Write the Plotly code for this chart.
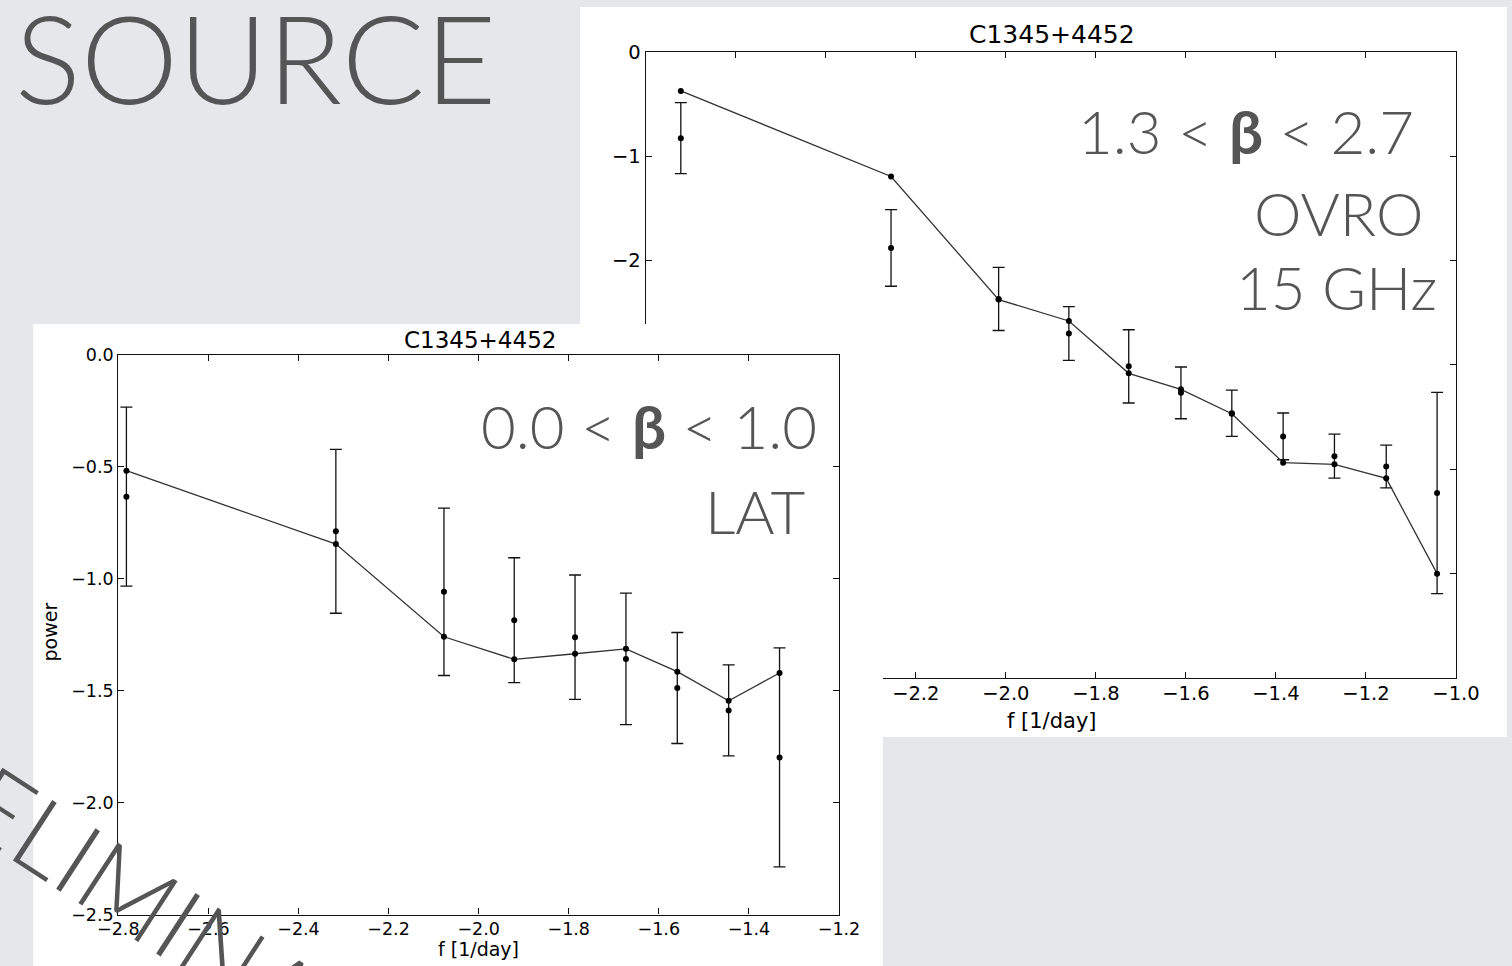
import plotly.graph_objects as go

# ---------------- data ----------------
# OVRO 15 GHz panel (right, behind)
ovro_f = [-2.722, -2.255, -2.016, -1.860, -1.727, -1.611, -1.498, -1.384, -1.270, -1.155, -1.042]
ovro_model = [-0.376, -1.196, -2.376, -2.581, -3.083, -3.236, -3.470, -3.939, -3.955, -4.089, -5.003]
ovro_power = [-0.829, -1.881, -2.370, -2.701, -3.016, -3.270, -3.465, -3.687, -3.877, -3.975, -4.230]
ovro_err = [0.340, 0.367, 0.302, 0.257, 0.351, 0.248, 0.222, 0.224, 0.211, 0.205, 0.965]

# LAT panel (left, in front)
lat_f = [-2.782, -2.317, -2.077, -1.921, -1.786, -1.673, -1.559, -1.445, -1.332]
lat_model = [-0.517, -0.845, -1.259, -1.360, -1.335, -1.313, -1.415, -1.545, -1.421]
lat_power = [-0.633, -0.788, -1.058, -1.185, -1.261, -1.358, -1.488, -1.588, -1.798]
lat_err = [0.400, 0.366, 0.374, 0.279, 0.278, 0.294, 0.248, 0.203, 0.489]

source_name = "C1345+4452"
x_title = "f [1/day]"
y_title = "power"

W, H = 1512, 966


def px(x):
    return x / W


def py(y):
    return 1 - y / H


TEXT_GRAY = "#555555"
BIG_FONT = "Lato"
MPL_FONT = "DejaVu Sans"

fig = go.Figure()

# ---- right panel (OVRO) on xy ----
fig.add_trace(go.Scatter(
    x=ovro_f, y=ovro_power, mode="markers", xaxis="x", yaxis="y",
    marker=dict(size=6, color="black"),
    error_y=dict(type="data", array=ovro_err, visible=True, color="#111111",
                 thickness=1.3, width=6),
    hoverinfo="skip"))
fig.add_trace(go.Scatter(
    x=ovro_f, y=ovro_model, mode="lines+markers", xaxis="x", yaxis="y",
    line=dict(color="#333333", width=1.3),
    marker=dict(size=6, color="black"), hoverinfo="skip"))

# ---- blocker subplot (white sheet of the LAT figure) on x2y2 ----
fig.add_trace(go.Scatter(x=[], y=[], xaxis="x2", yaxis="y2", hoverinfo="skip"))

# ---- left panel (LAT) on x3y3 ----
fig.add_trace(go.Scatter(
    x=lat_f, y=lat_power, mode="markers", xaxis="x3", yaxis="y3",
    marker=dict(size=6, color="black"),
    error_y=dict(type="data", array=lat_err, visible=True, color="#111111",
                 thickness=1.3, width=6),
    hoverinfo="skip"))
fig.add_trace(go.Scatter(
    x=lat_f, y=lat_model, mode="lines+markers", xaxis="x3", yaxis="y3",
    line=dict(color="#333333", width=1.3),
    marker=dict(size=6, color="black"), hoverinfo="skip"))


def ax_style(fs, standoff):
    return dict(
        showline=True, linecolor="#111111", linewidth=1.2, mirror="allticks",
        ticks="inside", ticklen=6, tickwidth=1, tickcolor="#111111",
        showgrid=False, zeroline=False, automargin=False,
        tickfont=dict(family=MPL_FONT, size=fs, color="black"),
        ticklabelstandoff=standoff,
    )


layout = dict(
    width=W, height=H, template="none",
    margin=dict(l=0, r=0, t=0, b=0, pad=0),
    paper_bgcolor="#e6e7eb", plot_bgcolor="white", showlegend=False,
    xaxis=dict(domain=[px(645.7), px(1456)], range=[-2.8, -1.0], dtick=0.2,
               tickformat=".1f", anchor="y", **ax_style(19.5, -2)),
    yaxis=dict(domain=[py(677.7), py(51.7)], range=[-6, 0], dtick=1,
               anchor="x", **ax_style(19.5, 0)),
    xaxis2=dict(domain=[px(33.3), px(883)], visible=False, anchor="y2",
                range=[0, 1]),
    yaxis2=dict(domain=[0, py(324)], visible=False, anchor="x2", range=[0, 1]),
    xaxis3=dict(domain=[px(118.3), px(839)], range=[-2.8, -1.2], dtick=0.2,
                tickformat=".1f", anchor="y3", **ax_style(17.5, -2)),
    yaxis3=dict(domain=[py(914.5), py(355)], range=[-2.5, 0], dtick=0.5,
                tickformat=".1f", anchor="x3", **ax_style(17.5, 0)),
)
fig.update_layout(**layout)

# white sheet behind the OVRO figure
fig.add_shape(type="rect", xref="paper", yref="paper",
              x0=px(580), x1=px(1507), y0=py(737), y1=py(7),
              fillcolor="white", line=dict(width=0), layer="below")


def ann(text, x, y, size, family=MPL_FONT, color="black", xanchor="center",
        yanchor="middle", angle=0, weight=None):
    f = dict(family=family, size=size, color=color)
    if weight is not None:
        f["weight"] = weight
    fig.add_annotation(text=text, x=px(x), y=py(y), xref="paper", yref="paper",
                       showarrow=False, xanchor=xanchor, yanchor=yanchor,
                       textangle=angle, font=f)


# matplotlib-style labels
ann(source_name, 1052, 34, 25)
ann(x_title, 1052, 721, 21)
ann(source_name, 479.5, 340, 23)
ann(x_title, 478.5, 949, 19)
ann(y_title, 49, 632.5, 19, angle=-90)

# slide text
ann("SOURCE", 13, 56, 123, family=BIG_FONT, color=TEXT_GRAY, xanchor="left",
    weight=300)
ann("1.3 &lt; <b>β</b> &lt; 2.7", 1416, 131, 60, family=BIG_FONT,
    color=TEXT_GRAY, xanchor="right", weight=300)
ann("OVRO", 1426, 213, 60, family=BIG_FONT, color=TEXT_GRAY,
    xanchor="right", weight=300)
ann("15 GHz", 1439, 287, 60, family=BIG_FONT, color=TEXT_GRAY,
    xanchor="right", weight=300)
ann("0.0 &lt; <b>β</b> &lt; 1.0", 819, 426, 60, family=BIG_FONT,
    color=TEXT_GRAY, xanchor="right", weight=300)
ann("LAT", 807, 511, 60, family=BIG_FONT, color=TEXT_GRAY,
    xanchor="right", weight=300)
ann("PRELIMINARY", 144, 898, 102, family=BIG_FONT, color=TEXT_GRAY,
    angle=33, weight=300)

fig.write_html("out.html", config={"displayModeBar": False},
               post_script="document.body.style.margin='0px';")
